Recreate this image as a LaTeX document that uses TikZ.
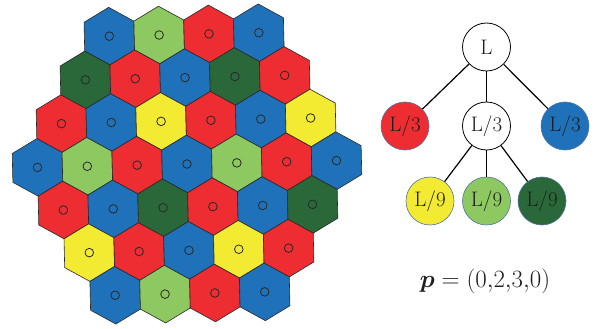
\documentclass[tikz,border=0pt]{standalone}
\usepackage{amsmath,bm}
\definecolor{hb}{RGB}{31,114,186}
\definecolor{hr}{RGB}{237,45,50}
\definecolor{hlg}{RGB}{141,200,96}
\definecolor{hdg}{RGB}{42,104,58}
\definecolor{hy}{RGB}{243,234,50}
\definecolor{edgegray}{RGB}{40,40,40}
\definecolor{rimblue}{RGB}{80,115,160}
\definecolor{txt}{RGB}{30,30,30}
\begin{document}
\begin{tikzpicture}[x=1pt,y=-1pt,
  hexedge/.style={draw=edgegray, line width=0.6pt},
  dotmark/.style={draw=edgegray, line width=0.8pt},
  treenode/.style={circle, minimum size=48pt, inner sep=0pt, text=txt,
    font=\fontsize{21}{25}\selectfont},
  whitenode/.style={treenode, draw=black, line width=0.8pt, fill=white},
  colnode/.style={treenode, draw=rimblue, line width=0.6pt},
  conn/.style={draw=black, line width=1.2pt}]
\useasboundingbox (0,0) rectangle (597,329);
\begin{scope}[shift={(187,164)}, rotate=1.3]
\foreach \r/\cs/\cols in {-3/0/{hb,hlg,hr,hb},
                          -2/-1/{hdg,hr,hb,hdg,hr},
                          -1/-2/{hr,hb,hy,hr,hb,hy},
                          0/-3/{hb,hlg,hr,hb,hlg,hr,hb},
                          1/-3/{hr,hb,hdg,hr,hb,hdg},
                          2/-3/{hy,hr,hb,hy,hr},
                          3/-3/{hb,hlg,hr,hb}}{
  \foreach \col [count=\k from 0] in \cols {
    \pgfmathsetmacro\cx{49.85*(\cs+\k+\r/2)}
    \pgfmathsetmacro\cy{43.2*\r}
    \filldraw[fill=\col, hexedge] (\cx,\cy) +(30:28.8) -- +(90:28.8) -- +(150:28.8)
      -- +(210:28.8) -- +(270:28.8) -- +(330:28.8) -- cycle;
    \draw[dotmark] (\cx,\cy) circle (4.3);
  }
}
\end{scope}
\node[whitenode] (L) at (486.5,47) {L};
\node[colnode, fill=hr] (a) at (405,126) {L/3};
\node[whitenode] (b) at (486.5,126) {L/3};
\node[colnode, fill=hb] (c) at (565,126) {L/3};
\node[colnode, fill=hy] (d) at (430,201) {L/9};
\node[colnode, fill=hlg] (e) at (486.5,201) {L/9};
\node[colnode, fill=hdg] (f) at (542,201) {L/9};
\draw[conn] (L) -- (a);
\draw[conn] (L) -- (b);
\draw[conn] (L) -- (c);
\draw[conn] (b) -- (d);
\draw[conn] (b) -- (e);
\draw[conn] (b) -- (f);
\node[text=txt, font=\fontsize{26}{31}\selectfont] (p) at (485,281) {$\boldsymbol{p} = (0{,}2{,}3{,}0)$};
\end{tikzpicture}
\end{document}
